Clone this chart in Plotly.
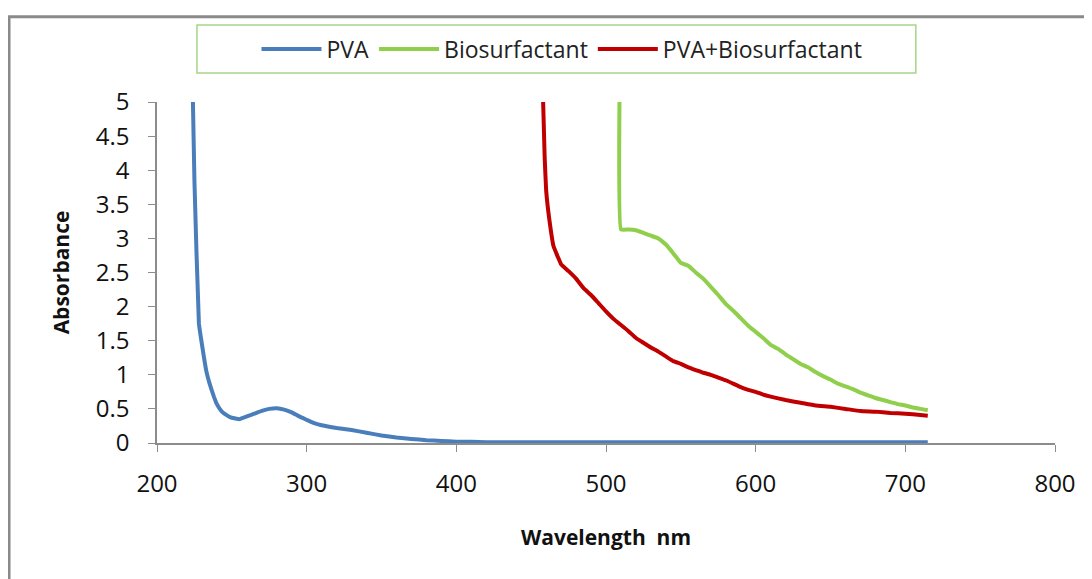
import plotly.graph_objects as go

# PVA
pva_x = [224, 225, 228, 230, 233, 235, 238, 240, 243, 245, 248, 250, 255, 260, 265, 270, 275, 280, 285,
         290, 295, 300, 305, 310, 320, 330, 340, 350, 360, 370, 380, 390, 400, 410, 420, 450, 500, 550,
         600, 650, 700, 715]
pva_y = [5.0, 3.85, 1.75, 1.45, 1.05, 0.88, 0.68, 0.57, 0.47, 0.43, 0.39, 0.37, 0.35, 0.39, 0.43, 0.47,
         0.50, 0.51, 0.49, 0.45, 0.39, 0.34, 0.29, 0.26, 0.22, 0.19, 0.15, 0.11, 0.08, 0.06, 0.04, 0.03,
         0.02, 0.02, 0.01, 0.01, 0.01, 0.01, 0.01, 0.01, 0.01, 0.01]

# Biosurfactant
bio_x = [509, 510, 515, 520, 525, 530, 535, 540, 545, 550, 555, 560, 565, 570, 575, 580, 585, 590, 595,
         600, 605, 610, 615, 620, 625, 630, 635, 640, 645, 650, 655, 660, 665, 670, 675, 680, 685, 690,
         695, 700, 705, 710, 715]
bio_y = [5.0, 3.13, 3.13, 3.12, 3.08, 3.04, 3.0, 2.91, 2.78, 2.64, 2.60, 2.50, 2.41, 2.29, 2.17, 2.04,
         1.94, 1.83, 1.72, 1.63, 1.54, 1.44, 1.38, 1.30, 1.23, 1.16, 1.11, 1.04, 0.98, 0.93, 0.87, 0.83,
         0.79, 0.74, 0.70, 0.66, 0.63, 0.60, 0.57, 0.55, 0.52, 0.50, 0.48]

# PVA+Biosurfactant
mix_x = [458, 459, 460, 462, 465, 468, 470, 475, 480, 485, 490, 495, 500, 505, 510, 515, 520, 525, 530,
         535, 540, 545, 550, 555, 560, 565, 570, 575, 580, 585, 590, 595, 600, 605, 610, 620, 630, 640,
         650, 660, 670, 680, 690, 700, 710, 715]
mix_y = [5.0, 4.2, 3.71, 3.3, 2.88, 2.72, 2.62, 2.52, 2.41, 2.27, 2.17, 2.05, 1.93, 1.82, 1.73, 1.64,
         1.54, 1.47, 1.40, 1.34, 1.27, 1.20, 1.16, 1.11, 1.07, 1.03, 1.00, 0.96, 0.92, 0.87, 0.82, 0.78,
         0.75, 0.71, 0.68, 0.63, 0.59, 0.55, 0.53, 0.50, 0.47, 0.46, 0.44, 0.43, 0.41, 0.40]

series_names = ["PVA", "Biosurfactant", "PVA+Biosurfactant"]
series_colors = ["#4a7ebb", "#8fcf4c", "#c00000"]
x_ticks = [200, 300, 400, 500, 600, 700, 800]
y_ticks = [0, 0.5, 1, 1.5, 2, 2.5, 3, 3.5, 4, 4.5, 5]

fig = go.Figure()
for name, xs, ys, col in zip(series_names, [pva_x, bio_x, mix_x], [pva_y, bio_y, mix_y], series_colors):
    fig.add_trace(go.Scatter(x=xs, y=ys, mode="lines", name=name,
                             line=dict(color=col, width=4, shape="spline", smoothing=0.3)))

font_family = "Open Sans, Noto Sans, sans-serif"
fig.update_layout(
    width=1092, height=579,
    margin=dict(l=149, r=45, t=94, b=144),
    paper_bgcolor="white", plot_bgcolor="white",
    showlegend=True,
    legend=dict(orientation="h", x=0.451, xanchor="center", y=1.155, yanchor="middle",
                font=dict(family=font_family, size=23, color="#222"),
                bgcolor="rgba(0,0,0,0)", borderwidth=0, itemwidth=60, tracegroupgap=0),
    xaxis=dict(range=[200, 800], tickvals=x_ticks, showgrid=False, zeroline=False,
               showline=True, linecolor="#8c8c8c", linewidth=1.5, ticks="outside", ticklen=7,
               tickcolor="#8c8c8c", tickfont=dict(family=font_family, size=24, color="#111"),
               ticklabelstandoff=11,
               title=dict(text="<b>Wavelength  nm</b>", font=dict(family=font_family, size=21, color="#111"),
                          standoff=33)),
    yaxis=dict(range=[0, 5], tickvals=y_ticks, showgrid=False, zeroline=False,
               showline=True, linecolor="#8c8c8c", linewidth=1.5, ticks="outside", ticklen=7,
               tickcolor="#8c8c8c", tickfont=dict(family=font_family, size=24, color="#111"),
               ticklabelstandoff=14,
               title=dict(text="<b>Absorbance</b>", font=dict(family=font_family, size=21, color="#111"),
                          standoff=20)),
    shapes=[
        dict(type="rect", xref="paper", yref="paper", x0=0.0445, x1=0.845, y0=1.085, y1=1.226,
             line=dict(color="#a6d585", width=1.5), fillcolor="rgba(0,0,0,0)", layer="below"),
        dict(type="rect", xref="paper", yref="paper", x0=-0.1648, x1=1.1, y0=-0.6, y1=1.25,
             line=dict(color="#8a8a8a", width=3), fillcolor="rgba(0,0,0,0)", layer="below"),
    ],
)

fig.write_html("out.html")
